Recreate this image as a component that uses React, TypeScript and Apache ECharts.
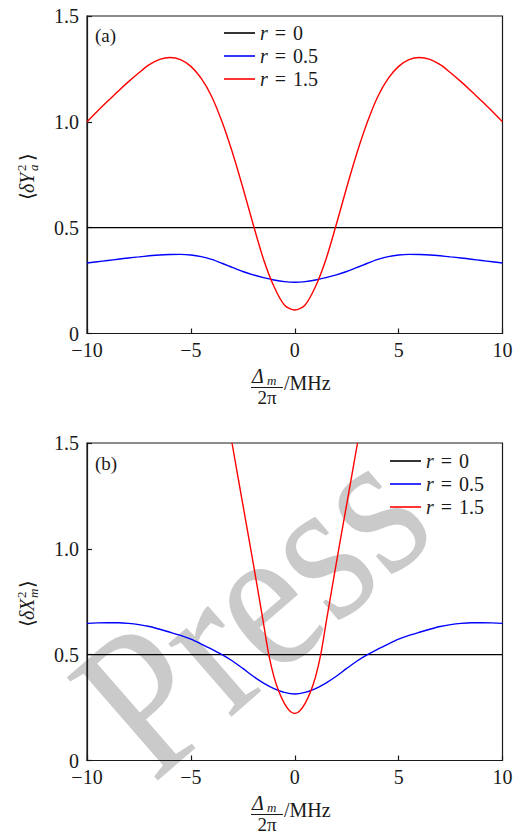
import React, { useEffect, useRef } from "react";
import * as echarts from "echarts";

// Detuning Δm/2π (MHz)
const detuning = [-10, -9.5, -9, -8.5, -8, -7.5, -7, -6.5, -6, -5.5, -5, -4.5, -4, -3.5, -3, -2.5, -2, -1.5, -1, -0.5, 0, 0.5, 1, 1.5, 2, 2.5, 3, 3.5, 4, 4.5, 5, 5.5, 6, 6.5, 7, 7.5, 8, 8.5, 9, 9.5, 10];

// Panel (a) <δY_a^2>
const a_r0_x = [-10, 10];
const a_r0 = [0.5, 0.5];
const a_r05 = [0.333, 0.339, 0.345, 0.351, 0.357, 0.362, 0.367, 0.371, 0.373, 0.374, 0.371, 0.363, 0.35, 0.332, 0.312, 0.293, 0.277, 0.264, 0.253, 0.245, 0.242, 0.245, 0.253, 0.264, 0.277, 0.293, 0.312, 0.332, 0.35, 0.363, 0.371, 0.374, 0.373, 0.371, 0.367, 0.362, 0.357, 0.351, 0.345, 0.339, 0.333];
const a_r15 = [1.0, 1.05, 1.098, 1.145, 1.19, 1.232, 1.27, 1.295, 1.304, 1.294, 1.262, 1.205, 1.12, 1.0, 0.855, 0.69, 0.515, 0.35, 0.222, 0.135, 0.111, 0.135, 0.222, 0.35, 0.515, 0.69, 0.855, 1.0, 1.12, 1.205, 1.262, 1.294, 1.304, 1.295, 1.27, 1.232, 1.19, 1.145, 1.098, 1.05, 1.0];

// Panel (b) <δX_m^2>
const b_r0_x = [-10, 10];
const b_r0 = [0.5, 0.5];
const b_r05 = [0.648, 0.65, 0.651, 0.651, 0.648, 0.642, 0.633, 0.62, 0.606, 0.591, 0.573, 0.55, 0.526, 0.5, 0.47, 0.435, 0.398, 0.366, 0.34, 0.322, 0.314, 0.322, 0.34, 0.366, 0.398, 0.435, 0.47, 0.5, 0.526, 0.55, 0.573, 0.591, 0.606, 0.62, 0.633, 0.642, 0.648, 0.651, 0.651, 0.65, 0.648];
const b_r15_x = [-3.02, -2.5, -2.12, -1.75, -1.5, -1.25, -1, -0.75, -0.5, -0.25, 0, 0.25, 0.5, 0.75, 1, 1.25, 1.5, 1.75, 2.12, 2.5, 3.02];
const b_r15 = [1.5, 1.21, 1.0, 0.79, 0.645, 0.5, 0.395, 0.322, 0.27, 0.235, 0.222, 0.235, 0.27, 0.322, 0.395, 0.5, 0.645, 0.79, 1.0, 1.21, 1.5];

const seriesNames = ["r = 0", "r = 0.5", "r = 1.5"];
const seriesColors = ["#000000", "#0000ff", "#ff0000"];
const yTicks = [0, 0.5, 1.0, 1.5];
const xTicks = [-10, -5, 0, 5, 10];

const FAM = "Liberation Serif, DejaVu Serif, serif";
const INK = "#1a1a1a";
const f = (size: number, italic = false) => `${italic ? "italic " : ""}${size}px ${FAM}`;

const pair = (xs: number[], ys: number[]) => xs.map((x, i) => [x, ys[i]]);

function yName(cx: number, cy: number, letter: string, sub: string) {
  return {
    type: "group",
    x: cx,
    y: cy,
    rotation: Math.PI / 2,
    children: [
      { type: "text", x: -25, y: 0, style: { text: "⟨", font: f(20), fill: INK, align: "left", verticalAlign: "middle" } },
      { type: "text", x: -18, y: 0, style: { text: "δ", font: f(20, true), fill: INK, align: "left", verticalAlign: "middle" } },
      { type: "text", x: -9, y: 0, style: { text: letter, font: f(20, true), fill: INK, align: "left", verticalAlign: "middle" } },
      { type: "text", x: 4, y: -6, style: { text: "2", font: f(13), fill: INK, align: "left", verticalAlign: "middle" } },
      { type: "text", x: 4, y: 6, style: { text: sub, font: f(13, true), fill: INK, align: "left", verticalAlign: "middle" } },
      { type: "text", x: 14, y: 0, style: { text: "⟩", font: f(20), fill: INK, align: "left", verticalAlign: "middle" } },
    ],
  };
}

function xName(baseY: number) {
  return [
    { type: "text", x: 252, y: baseY + 42, style: { text: "Δ", font: f(20, true), fill: INK, align: "left", verticalAlign: "middle" } },
    { type: "text", x: 267, y: baseY + 47, style: { text: "m", font: f(13, true), fill: INK, align: "left", verticalAlign: "middle" } },
    { type: "line", shape: { x1: 251, y1: baseY + 54, x2: 283, y2: baseY + 54 }, style: { stroke: INK, lineWidth: 1 } },
    { type: "text", x: 267, y: baseY + 63.5, style: { text: "2π", font: f(19), fill: INK, align: "center", verticalAlign: "middle" } },
    { type: "text", x: 284, y: baseY + 49, style: { text: "/MHz", font: f(20), fill: INK, align: "left", verticalAlign: "middle" } },
  ];
}

const legendFmt = (name: string) => {
  const val = name.split("=")[1].trim();
  return `{i|r}{eq|=}{n|${val}}`;
};

function makeLegend(left: number, top: number) {
  return {
    data: seriesNames,
    orient: "vertical",
    left,
    top,
    icon: "rect",
    itemWidth: 31,
    itemHeight: 1.6,
    itemGap: 3,
    selectedMode: false,
    formatter: legendFmt,
    textStyle: {
      fontFamily: FAM,
      fontSize: 20,
      color: INK,
      lineHeight: 20,
      rich: {
        i: { fontFamily: FAM, fontSize: 20, fontStyle: "italic", color: INK, lineHeight: 20 },
        eq: { fontFamily: FAM, fontSize: 20, color: INK, padding: [0, 7, 0, 7], lineHeight: 20 },
        n: { fontFamily: FAM, fontSize: 20, color: INK, lineHeight: 20 },
      },
    },
  };
}

function makeAxes(gridIndex: number) {
  const x = {
    type: "value",
    gridIndex,
    min: -10,
    max: 10,
    interval: 5,
    axisLine: { show: true, onZero: false, lineStyle: { color: INK, width: 1.2 } },
    axisTick: { show: true, inside: true, length: 5, lineStyle: { color: INK, width: 1.2 } },
    axisLabel: {
      margin: 6,
      fontFamily: FAM,
      fontSize: 20,
      color: INK,
      formatter: (v: number) => (xTicks.includes(v) ? (v < 0 ? "−" + Math.abs(v) : String(v)) : ""),
    },
    splitLine: { show: false },
  };
  const y = {
    type: "value",
    gridIndex,
    min: yTicks[0],
    max: yTicks[yTicks.length - 1],
    interval: 0.5,
    axisLine: { show: true, onZero: false, lineStyle: { color: INK, width: 1.2 } },
    axisTick: { show: true, inside: true, length: 5, lineStyle: { color: INK, width: 1.2 } },
    axisLabel: {
      margin: 8,
      fontFamily: FAM,
      fontSize: 20,
      color: INK,
      formatter: (v: number) => (v === 0 ? "0" : v.toFixed(1)),
    },
    splitLine: { show: false },
  };
  return { x, y };
}

function lineSeries(name: string, color: string, data: number[][], idx: number) {
  return {
    type: "line",
    name,
    xAxisIndex: idx,
    yAxisIndex: idx,
    data,
    symbol: "none",
    smooth: 0.3,
    clip: true,
    lineStyle: { color, width: 1.4 },
    itemStyle: { color },
    z: 3,
  };
}

export default function App() {
  const ref = useRef<HTMLDivElement>(null);
  useEffect(() => {
    document.body.style.margin = "0";
    const chart = echarts.init(ref.current!, null, { renderer: "svg" });
    const ax0 = makeAxes(0);
    const ax1 = makeAxes(1);
    chart.setOption({
      animation: false,
      backgroundColor: "#ffffff",
      grid: [
        { left: 87, top: 16, width: 415.5, height: 317.5, show: true, borderColor: INK, borderWidth: 1.2, backgroundColor: "transparent" },
        { left: 87, top: 443, width: 415.5, height: 317.5, show: true, borderColor: INK, borderWidth: 1.2, backgroundColor: "transparent" },
      ],
      xAxis: [ax0.x, ax1.x],
      yAxis: [ax0.y, ax1.y],
      legend: [makeLegend(219, 18), makeLegend(385, 446)],
      graphic: [
        {
          type: "text",
          x: 250,
          y: 606,
          rotation: (41 * Math.PI) / 180,
          scaleX: 0.86,
          z: -10,
          silent: true,
          style: { text: "Press", font: f(210), fill: "#cacaca", align: "center", verticalAlign: "middle" },
        },
        { type: "text", x: 95, y: 35, style: { text: "(a)", font: f(19), fill: INK, align: "left", verticalAlign: "middle" } },
        { type: "text", x: 95, y: 463, style: { text: "(b)", font: f(19), fill: INK, align: "left", verticalAlign: "middle" } },
        yName(27, 175, "Y", "a"),
        yName(27, 602, "X", "m"),
        ...xName(333.5),
        ...xName(760.5),
      ],
      series: [
        lineSeries(seriesNames[0], seriesColors[0], pair(a_r0_x, a_r0), 0),
        lineSeries(seriesNames[1], seriesColors[1], pair(detuning, a_r05), 0),
        lineSeries(seriesNames[2], seriesColors[2], pair(detuning, a_r15), 0),
        lineSeries(seriesNames[0], seriesColors[0], pair(b_r0_x, b_r0), 1),
        lineSeries(seriesNames[1], seriesColors[1], pair(detuning, b_r05), 1),
        lineSeries(seriesNames[2], seriesColors[2], pair(b_r15_x, b_r15), 1),
      ],
    });
    return () => chart.dispose();
  }, []);
  return <div ref={ref} style={{ width: 523, height: 834 }} />;
}
